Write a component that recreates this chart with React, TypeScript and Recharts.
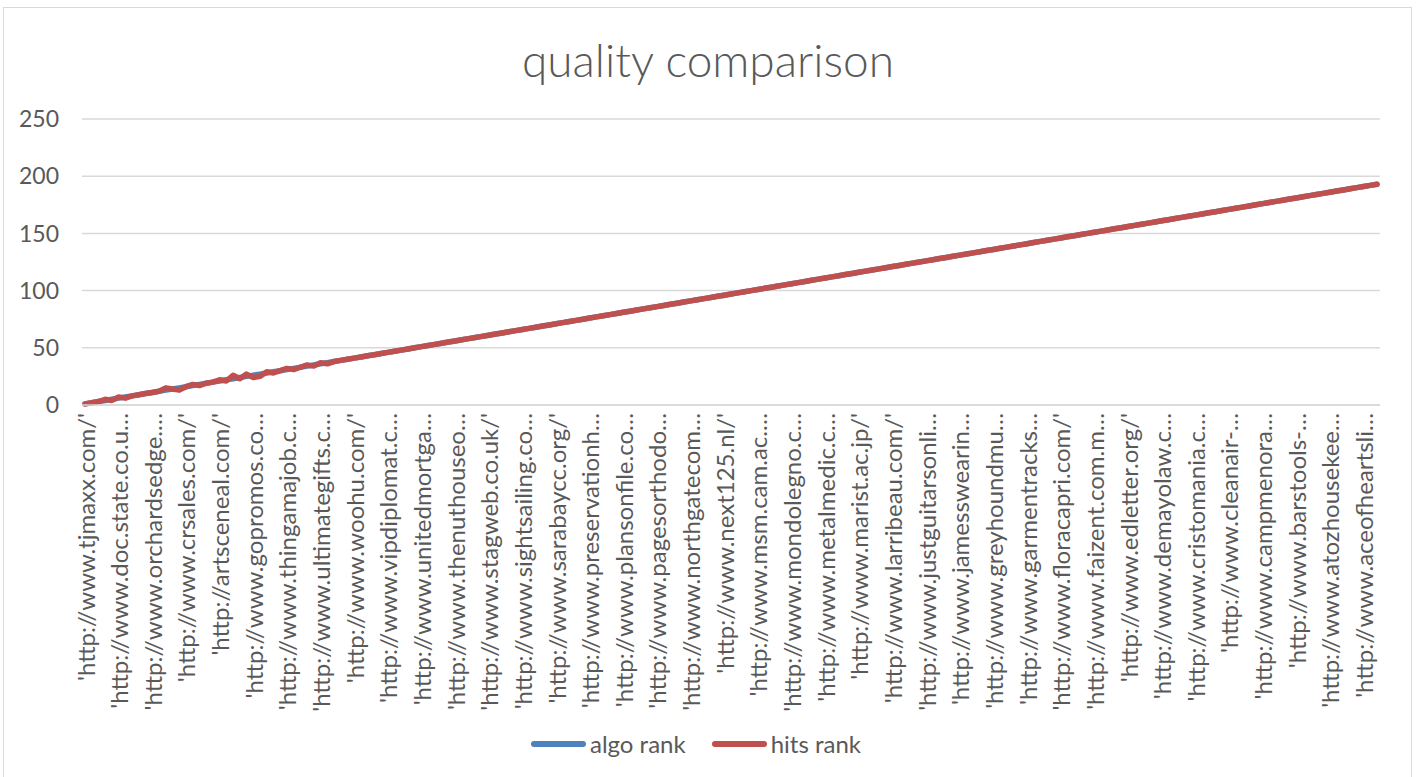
import { LineChart, Line, XAxis, YAxis, CartesianGrid, Legend } from 'recharts'

// only every 5th site name is printed on the axis
const siteLabels = [
  "'http://www.tjmaxx.com/'",
  "'http://www.doc.state.co.u…",
  "'http://www.orchardsedge.…",
  "'http://www.crsales.com/'",
  "'http://artsceneal.com/'",
  "'http://www.gopromos.co…",
  "'http://www.thingamajob.c…",
  "'http://www.ultimategifts.c…",
  "'http://www.woohu.com/'",
  "'http://www.vipdiplomat.c…",
  "'http://www.unitedmortga…",
  "'http://www.thenuthouseo…",
  "'http://www.stagweb.co.uk/'",
  "'http://www.sightsailing.co…",
  "'http://www.sarabaycc.org/'",
  "'http://www.preservationh…",
  "'http://www.plansonfile.co…",
  "'http://www.pagesorthodo…",
  "'http://www.northgatecom…",
  "'http://www.next125.nl/'",
  "'http://www.msm.cam.ac.…",
  "'http://www.mondolegno.c…",
  "'http://www.metalmedic.c…",
  "'http://www.marist.ac.jp/'",
  "'http://www.larribeau.com/'",
  "'http://www.justguitarsonli…",
  "'http://www.jamesswearin…",
  "'http://www.greyhoundmu…",
  "'http://www.garmentracks…",
  "'http://www.floracapri.com/'",
  "'http://www.faizent.com.m…",
  "'http://www.edletter.org/'",
  "'http://www.demayolaw.c…",
  "'http://www.cristomania.c…",
  "'http://www.cleanair-…",
  "'http://www.campmenora…",
  "'http://www.barstools-…",
  "'http://www.atozhousekee…",
  "'http://www.aceofheartsli…",
]

const algoRank = [
  1, 2, 3, 4, 5, 6, 7, 8, 9, 10, 11, 12, 13, 14, 15, 16, 17, 18, 19, 20,
  21, 22, 23, 24, 25, 26, 27, 28, 29, 30, 31, 32, 33, 34, 35, 36, 37, 38, 39, 40,
  41, 42, 43, 44, 45, 46, 47, 48, 49, 50, 51, 52, 53, 54, 55, 56, 57, 58, 59, 60,
  61, 62, 63, 64, 65, 66, 67, 68, 69, 70, 71, 72, 73, 74, 75, 76, 77, 78, 79, 80,
  81, 82, 83, 84, 85, 86, 87, 88, 89, 90, 91, 92, 93, 94, 95, 96, 97, 98, 99, 100,
  101, 102, 103, 104, 105, 106, 107, 108, 109, 110, 111, 112, 113, 114, 115, 116, 117, 118, 119, 120,
  121, 122, 123, 124, 125, 126, 127, 128, 129, 130, 131, 132, 133, 134, 135, 136, 137, 138, 139, 140,
  141, 142, 143, 144, 145, 146, 147, 148, 149, 150, 151, 152, 153, 154, 155, 156, 157, 158, 159, 160,
  161, 162, 163, 164, 165, 166, 167, 168, 169, 170, 171, 172, 173, 174, 175, 176, 177, 178, 179, 180,
  181, 182, 183, 184, 185, 186, 187, 188, 189, 190, 191, 192, 193,
]

const hitsRank = [
  1, 2, 3, 5, 4, 7, 6, 8, 9, 10, 11, 12, 15, 14, 13, 16, 18, 17, 19, 20,
  22, 21, 26, 23, 27, 24, 25, 29, 28, 30, 32, 31, 33, 35, 34, 37, 36, 38, 39, 40,
  41, 42, 43, 44, 45, 46, 47, 48, 49, 50, 51, 52, 53, 54, 55, 56, 57, 58, 59, 60,
  61, 62, 63, 64, 65, 66, 67, 68, 69, 70, 71, 72, 73, 74, 75, 76, 77, 78, 79, 80,
  81, 82, 83, 84, 85, 86, 87, 88, 89, 90, 91, 92, 93, 94, 95, 96, 97, 98, 99, 100,
  101, 102, 103, 104, 105, 106, 107, 108, 109, 110, 111, 112, 113, 114, 115, 116, 117, 118, 119, 120,
  121, 122, 123, 124, 125, 126, 127, 128, 129, 130, 131, 132, 133, 134, 135, 136, 137, 138, 139, 140,
  141, 142, 143, 144, 145, 146, 147, 148, 149, 150, 151, 152, 153, 154, 155, 156, 157, 158, 159, 160,
  161, 162, 163, 164, 165, 166, 167, 168, 169, 170, 171, 172, 173, 174, 175, 176, 177, 178, 179, 180,
  181, 182, 183, 184, 185, 186, 187, 188, 189, 190, 191, 192, 193,
]

const yTicks = [0, 50, 100, 150, 200, 250]

const TEXT = '#595959'
const GRID = '#d9d9d9'
const FONT = 'Lato, Carlito, Calibri, sans-serif'
const COLORS = { algo: '#4f81bd', hits: '#c0504d' }

const data = algoRank.map((v, i) => ({
  site: i % 5 === 0 ? siteLabels[i / 5] : '',
  algo: v,
  hits: hitsRank[i],
}))

function SiteTick({ x, y, payload }: { x: number; y: number; payload: { value: string } }) {
  const ty = y
  return (
    <text
      x={x}
      y={ty}
      transform={`rotate(-90 ${x} ${ty})`}
      textAnchor="end"
      dominantBaseline="central"
      fill={TEXT}
      fontSize={24}
      fontFamily={FONT}
    >
      {payload.value}
    </text>
  )
}

function LegendBox({ payload }: { payload?: { value: string; color: string }[] }) {
  return (
    <div style={{ display: 'flex', justifyContent: 'center', alignItems: 'center', gap: 26, fontFamily: FONT, fontSize: 24, color: TEXT }}>
      {(payload ?? []).map((p) => (
        <div key={p.value} style={{ display: 'flex', alignItems: 'center', gap: 4 }}>
          <span style={{ display: 'inline-block', width: 55, height: 6, borderRadius: 3, background: p.color }} />
          <span>{p.value}</span>
        </div>
      ))}
    </div>
  )
}

export default function App() {
  return (
    <div style={{ position: 'absolute', left: 0, top: 0, width: 1416, height: 777, background: '#fff', overflow: 'hidden' }}>
      <div style={{ position: 'absolute', left: 3, top: 7, width: 1407, height: 790, border: `1px solid ${GRID}` }} />
      <div
        style={{
          position: 'absolute', left: 0, top: 30, width: 1416, height: 60, lineHeight: '60px',
          textAlign: 'center', fontFamily: FONT, fontWeight: 300, fontSize: 46, color: TEXT,
        }}
      >
        quality comparison
      </div>
      <div style={{ position: 'absolute', left: 0, top: 0 }}>
        <LineChart width={1416} height={777} data={data} margin={{ top: 119, right: 36, left: 12, bottom: 19 }}>
          <CartesianGrid vertical={false} stroke={GRID} strokeWidth={1.5} />
          <XAxis
            dataKey="site"
            interval={4}
            tick={SiteTick as any}
            tickLine={false}
            axisLine={{ stroke: GRID, strokeWidth: 1.5 }}
            height={324}
            padding={{ left: 3, right: 3 }}
          />
          <YAxis
            domain={[0, 250]}
            ticks={yTicks}
            width={70}
            tickLine={false}
            axisLine={false}
            tickMargin={17}
            tick={{ fill: TEXT, fontSize: 23, fontFamily: FONT }}
          />
          <Legend verticalAlign="bottom" content={LegendBox as any} />
          <Line
            type="linear"
            dataKey="algo"
            name="algo rank"
            stroke={COLORS.algo}
            strokeWidth={5.5}
            strokeLinecap="round"
            strokeLinejoin="round"
            dot={false}
            isAnimationActive={false}
          />
          <Line
            type="linear"
            dataKey="hits"
            name="hits rank"
            stroke={COLORS.hits}
            strokeWidth={5.5}
            strokeLinecap="round"
            strokeLinejoin="round"
            dot={false}
            isAnimationActive={false}
          />
        </LineChart>
      </div>
    </div>
  )
}
